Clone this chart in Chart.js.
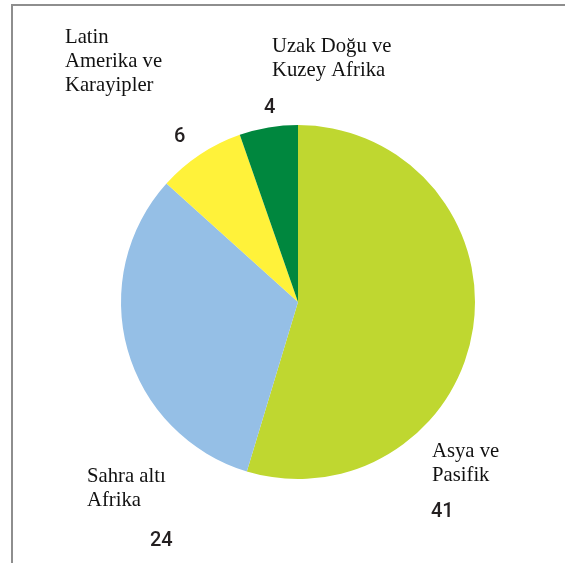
<!DOCTYPE html>
<html>
<head>
<meta charset="utf-8">
<script src="https://cdn.jsdelivr.net/npm/chart.js@4"></script>
<style>
  html, body { margin: 0; padding: 0; background: #fff; }
  #wrap { position: relative; width: 565px; height: 563px; overflow: hidden; }
  #frame {
    position: absolute; left: 11px; top: 4px; right: -10px; bottom: -10px;
    border-top: 2px solid #8e8e8e; border-left: 2px solid #8e8e8e;
  }
  canvas { position: absolute; left: 0; top: 0; }
</style>
</head>
<body>
<div id="wrap">
  <div id="frame"></div>
  <canvas id="pieChart" width="565" height="563"></canvas>
</div>
<script>
// Regions, clockwise from 12 o'clock
const regions = [
    ['Asya ve', 'Pasifik'],
    ['Sahra altı', 'Afrika'],
    ['Latin', 'Amerika ve', 'Karayipler'],
    ['Uzak Doğu ve', 'Kuzey Afrika']
];
const values = [41, 24, 6, 4];
const sliceColors = ['#bfd730', '#95bfe6', '#fff23a', '#00873e'];

// Where each label block sits (name baseline-left, number top-left)
const labelSpots = [
    { name: [432, 457], num: [431, 502] },
    { name: [87, 482], num: [150, 531] },
    { name: [65, 43], num: [174, 127] },
    { name: [272, 52], num: [264, 98] }
];

const labelPlugin = {
    id: 'sliceLabels',
    afterDraw(chart) {
        const ctx = chart.ctx;
        ctx.save();
        regions.forEach((lines, i) => {
            const spot = labelSpots[i];
            ctx.fillStyle = '#111';
            ctx.font = '20.7px "Liberation Serif", "Times New Roman", serif';
            ctx.textAlign = 'left';
            ctx.textBaseline = 'alphabetic';
            lines.forEach((line, j) => {
                ctx.fillText(line, spot.name[0], spot.name[1] + j * 24);
            });
            ctx.fillStyle = '#231f20';
            ctx.font = '500 20px Roboto, "DejaVu Sans", sans-serif';
            ctx.textBaseline = 'top';
            ctx.fillText(String(values[i]), spot.num[0], spot.num[1]);
        });
        ctx.restore();
    }
};

const ctx = document.getElementById('pieChart').getContext('2d');
new Chart(ctx, {
    type: 'pie',
    data: {
        labels: regions.map(r => r.join(' ')),
        datasets: [{
            data: values,
            backgroundColor: sliceColors,
            borderWidth: 0
        }]
    },
    options: {
        responsive: false,
        animation: false,
        rotation: 0,
        layout: {
            padding: { left: 121, right: 90, top: 125, bottom: 84 }
        },
        plugins: {
            legend: { display: false },
            tooltip: { enabled: false }
        }
    },
    plugins: [labelPlugin]
});
</script>
</body>
</html>
